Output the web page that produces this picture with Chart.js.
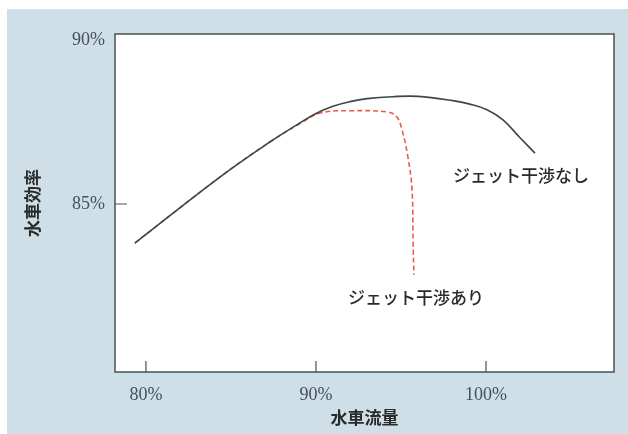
<!DOCTYPE html>
<html>
<head>
<meta charset="utf-8">
<script src="https://cdn.jsdelivr.net/npm/chart.js@4"></script>
<style>
  body { margin: 0; background: #fff; }
  canvas { display: block; }
</style>
</head>
<body>
<canvas id="myChart" width="628" height="434"></canvas>
<script>
// flow rate (%) vs efficiency (%)
let flowNoJet = [79.35, 84.35, 87.29, 89.06, 90.0, 91.0, 92.0, 93.0, 94.5, 96.0, 98.06, 99.0, 100.06, 101.0, 102.0, 102.88];
let effNoJet  = [83.81, 85.82, 86.89, 87.47, 87.76, 87.98, 88.12, 88.21, 88.27, 88.28, 88.15, 88.05, 87.87, 87.56, 87.02, 86.55];

let flowJet = [79.35, 84.35, 87.29, 89.06, 90.24, 92.0, 94.24, 94.76, 95.06, 95.41, 95.65, 95.71, 95.76];
let effJet  = [83.81, 85.82, 86.89, 87.45, 87.77, 87.84, 87.80, 87.65, 87.26, 86.43, 85.43, 83.90, 82.84];

let xTicks = [80, 90, 100];
let yTicks = [85, 90];
let yTickMarks = [85];

let labelNoJet = 'ジェット干渉なし';
let labelJet = 'ジェット干渉あり';
let xTitle = '水車流量';
let yTitle = '水車効率';

let toPoints = (xs, ys) => xs.map((x, i) => ({ x: x, y: ys[i] }));

const bgPlugin = {
  id: 'bg',
  beforeDraw(chart) {
    let c = chart.ctx, a = chart.chartArea;
    c.save();
    c.fillStyle = '#ffffff';
    c.fillRect(0, 0, chart.width, chart.height);
    c.fillStyle = '#cfdfe7';
    c.fillRect(7, 9, chart.width - 7, chart.height - 9);
    c.fillStyle = '#ffffff';
    c.fillRect(a.left, a.top, a.right - a.left, a.bottom - a.top);
    c.restore();
  },
  afterDraw(chart) {
    let c = chart.ctx, a = chart.chartArea;
    let xs = chart.scales.x, ys = chart.scales.y;
    c.save();
    c.strokeStyle = '#4a5252';
    c.lineWidth = 1.5;
    c.strokeRect(a.left, a.top, a.right - a.left, a.bottom - a.top);
    // inward ticks
    c.lineWidth = 1.2;
    c.beginPath();
    xTicks.forEach(v => {
      let px = xs.getPixelForValue(v);
      c.moveTo(px, a.bottom); c.lineTo(px, a.bottom - 11);
    });
    yTickMarks.forEach(v => {
      let py = ys.getPixelForValue(v);
      c.moveTo(a.left, py); c.lineTo(a.left + 12, py);
    });
    c.stroke();
    // curve labels
    c.fillStyle = '#2a2a2a';
    c.font = '500 17px "Noto Sans CJK JP"';
    c.textBaseline = 'middle';
    c.textAlign = 'left';
    c.fillText(labelNoJet, xs.getPixelForValue(98.06), ys.getPixelForValue(85.88));
    c.fillText(labelJet, xs.getPixelForValue(91.88), ys.getPixelForValue(82.16));
    c.restore();
  }
};

const ctx = document.getElementById('myChart');
new Chart(ctx, {
  type: 'line',
  data: {
    datasets: [{
      label: labelNoJet,
      data: toPoints(flowNoJet, effNoJet),
      borderColor: '#3c4848',
      borderWidth: 1.6,
      pointRadius: 0,
      tension: 0.4
    }, {
      label: labelJet,
      data: toPoints(flowJet, effJet),
      borderColor: '#ea5a48',
      borderWidth: 1.6,
      borderDash: [5, 3],
      pointRadius: 0,
      tension: 0.4
    }]
  },
  options: {
    responsive: false,
    animation: false,
    layout: { padding: { left: 0, top: 34, right: 14, bottom: 0 } },
    plugins: { legend: { display: false }, tooltip: { enabled: false } },
    scales: {
      x: {
        type: 'linear',
        min: 78.18,
        max: 107.53,
        afterBuildTicks: s => { s.ticks = xTicks.map(v => ({ value: v })); },
        afterFit: s => { s.height = 62; },
        grid: { display: false, drawTicks: false },
        border: { display: false },
        ticks: {
          padding: 12,
          color: '#44505a',
          font: { family: '"Liberation Serif"', size: 18 },
          callback: v => v + '%'
        },
        title: {
          display: true,
          text: xTitle,
          color: '#2a2a2a',
          font: { family: '"Noto Sans CJK JP"', size: 17, weight: 'bold' },
          padding: { top: 0, bottom: 6 }
        }
      },
      y: {
        min: 79.88,
        max: 90.18,
        afterBuildTicks: s => { s.ticks = yTicks.map(v => ({ value: v })); },
        afterFit: s => { s.width = 115; },
        grid: { display: false, drawTicks: false },
        border: { display: false },
        ticks: {
          padding: 10,
          color: '#44505a',
          font: { family: '"Liberation Serif"', size: 18 },
          callback: v => v + '%'
        },
        title: {
          display: true,
          text: yTitle,
          color: '#2a2a2a',
          font: { family: '"Noto Sans CJK JP"', size: 17, weight: 'bold' },
          padding: { top: 22, bottom: 0 }
        }
      }
    }
  },
  plugins: [bgPlugin]
});
</script>
</body>
</html>
